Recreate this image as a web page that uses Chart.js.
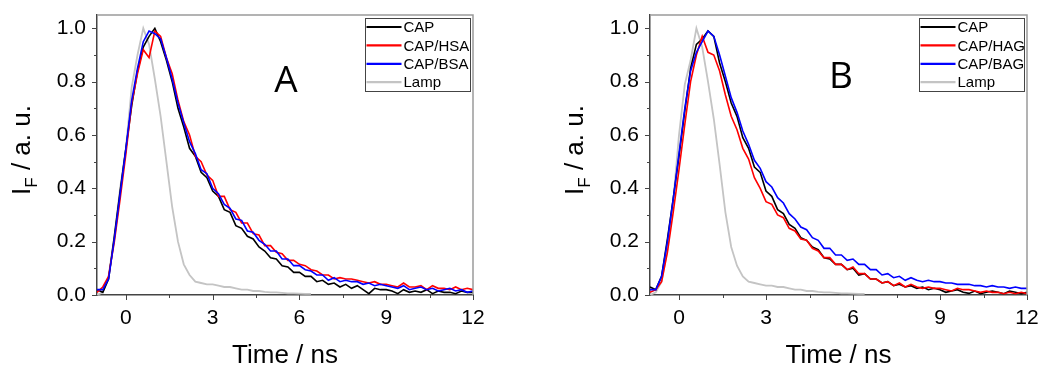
<!DOCTYPE html>
<html>
<head>
<meta charset="utf-8">
<script src="https://cdn.jsdelivr.net/npm/chart.js@4.4.0/dist/chart.umd.min.js"></script>
<style>
  html, body { margin: 0; padding: 0; background: #fff; }
  #wrap { position: relative; width: 1043px; height: 367px; }
  canvas { position: absolute; top: 0; }
</style>
</head>
<body>
<div id="wrap">
  <canvas id="chartA" width="520" height="367" style="left:0"></canvas>
  <canvas id="chartB" width="523" height="367" style="left:520px"></canvas>
</div>
<script>
// time axis (ns), shared by every trace
const timeNs = [-1.0,-0.8,-0.6,-0.4,-0.2,0.0,0.2,0.4,0.6,0.8,1.0,1.2,1.4,1.6,1.8,2.0,2.2,2.4,2.6,2.8,3.0,3.2,3.4,3.6,3.8,4.0,4.2,4.4,4.6,4.8,5.0,5.2,5.4,5.6,5.8,6.0,6.2,6.4,6.6,6.8,7.0,7.2,7.4,7.6,7.8,8.0,8.2,8.4,8.6,8.8,9.0,9.2,9.4,9.6,9.8,10.0,10.2,10.4,10.6,10.8,11.0,11.2,11.4,11.6,11.8,12.0];

// panel A
const capA = [0.02,0.01,0.06,0.22,0.39,0.55,0.71,0.84,0.93,0.97,1.00,0.95,0.88,0.80,0.70,0.63,0.55,0.52,0.46,0.44,0.39,0.37,0.32,0.31,0.26,0.25,0.22,0.21,0.18,0.165,0.14,0.135,0.11,0.105,0.085,0.085,0.07,0.07,0.05,0.055,0.04,0.045,0.03,0.04,0.025,0.035,0.02,0.005,0.025,0.02,0.02,0.015,0.005,0.02,0.01,0.015,0.01,0.02,0.005,0.015,0.01,0.01,0.005,0.015,0.01,0.01];
const hsaA = [0.01,0.03,0.07,0.20,0.36,0.53,0.72,0.83,0.92,0.89,0.99,0.97,0.89,0.83,0.73,0.65,0.60,0.52,0.50,0.45,0.43,0.37,0.37,0.32,0.31,0.27,0.27,0.23,0.225,0.185,0.185,0.16,0.155,0.13,0.13,0.115,0.11,0.095,0.09,0.075,0.075,0.06,0.065,0.06,0.06,0.055,0.05,0.045,0.05,0.04,0.04,0.035,0.03,0.045,0.03,0.03,0.035,0.02,0.035,0.025,0.025,0.02,0.03,0.02,0.025,0.02];
const bsaA = [0.02,0.02,0.06,0.21,0.38,0.55,0.73,0.85,0.95,0.99,0.98,0.96,0.89,0.81,0.72,0.645,0.575,0.53,0.47,0.455,0.40,0.38,0.34,0.325,0.285,0.28,0.24,0.235,0.205,0.19,0.165,0.165,0.135,0.135,0.11,0.11,0.095,0.09,0.075,0.075,0.055,0.065,0.05,0.055,0.05,0.05,0.04,0.045,0.035,0.04,0.035,0.03,0.025,0.035,0.02,0.025,0.03,0.02,0.025,0.015,0.02,0.025,0.015,0.02,0.01,0.015];
const lampA = [0.0,0.01,0.07,0.22,0.40,0.55,0.78,0.90,1.00,0.94,0.81,0.67,0.50,0.33,0.20,0.115,0.075,0.05,0.045,0.04,0.04,0.035,0.03,0.03,0.025,0.02,0.02,0.015,0.015,0.012,0.01,0.01,0.008,0.006,0.006,0.005,0.004,0.004];

// panel B
const capB = [0.03,0.02,0.07,0.21,0.36,0.52,0.69,0.85,0.94,0.96,0.99,0.97,0.87,0.80,0.72,0.67,0.59,0.55,0.48,0.46,0.39,0.37,0.32,0.305,0.265,0.25,0.215,0.205,0.18,0.17,0.14,0.135,0.115,0.115,0.095,0.1,0.075,0.08,0.06,0.06,0.045,0.05,0.035,0.04,0.03,0.035,0.025,0.03,0.02,0.025,0.02,0.01,0.015,0.02,0.01,0.006,0.015,0.005,0.01,0.015,0.01,0.005,0.015,0.01,0.005,0.01];
const hagB = [0.01,0.02,0.05,0.16,0.31,0.47,0.64,0.80,0.90,0.97,0.91,0.90,0.84,0.75,0.67,0.62,0.55,0.51,0.44,0.40,0.35,0.34,0.30,0.29,0.25,0.24,0.21,0.205,0.175,0.165,0.14,0.14,0.115,0.115,0.095,0.105,0.08,0.08,0.06,0.06,0.045,0.05,0.035,0.045,0.03,0.04,0.03,0.025,0.03,0.025,0.025,0.02,0.015,0.025,0.02,0.02,0.015,0.01,0.015,0.01,0.01,0.005,0.01,0.005,0.01,0.005];
const bagB = [0.02,0.02,0.07,0.20,0.36,0.53,0.70,0.84,0.91,0.95,0.99,0.97,0.90,0.82,0.74,0.685,0.615,0.565,0.505,0.475,0.425,0.405,0.365,0.345,0.305,0.285,0.255,0.245,0.215,0.205,0.175,0.175,0.15,0.15,0.13,0.135,0.115,0.115,0.095,0.095,0.075,0.08,0.065,0.07,0.055,0.065,0.055,0.05,0.055,0.05,0.05,0.045,0.045,0.04,0.04,0.04,0.035,0.035,0.03,0.035,0.03,0.03,0.025,0.03,0.025,0.025];
const lampB = [0.0,0.01,0.05,0.17,0.35,0.60,0.79,0.88,1.00,0.93,0.80,0.66,0.49,0.31,0.18,0.11,0.07,0.05,0.045,0.04,0.035,0.035,0.03,0.03,0.025,0.02,0.02,0.015,0.015,0.012,0.01,0.01,0.008,0.006,0.006,0.005,0.004,0.004];

const labelsA = ['CAP', 'CAP/HSA', 'CAP/BSA', 'Lamp'];
const labelsB = ['CAP', 'CAP/HAG', 'CAP/BAG', 'Lamp'];
const xTicks = [0, 3, 6, 9, 12];
const yTicks = [0, 0.2, 0.4, 0.6, 0.8, 1.0];
const xTitle = 'Time / ns';

const family = '"Liberation Sans", Arial, sans-serif';
const colors = ['#000000', '#ff0000', '#0000ff', '#c4c4c4'];
const drawOrder = [2, 1, 0, 3]; // blue on top, lamp underneath

// frame, outward ticks, legend box, y title with subscript, panel letter
const decor = {
    id: 'decor',
    afterDraw(chart, args, opts) {
        const { ctx, chartArea: { top, bottom, left, right }, scales: { x, y } } = chart;
        ctx.save();

        ctx.strokeStyle = '#9a9a9a';
        ctx.lineWidth = 1.5;
        ctx.beginPath();
        ctx.moveTo(left, top);
        ctx.lineTo(right, top);
        ctx.lineTo(right, bottom);
        ctx.stroke();

        ctx.strokeStyle = '#444';
        ctx.lineWidth = 1;
        const tick = (x1, y1, x2, y2) => { ctx.beginPath(); ctx.moveTo(x1, y1); ctx.lineTo(x2, y2); ctx.stroke(); };
        xTicks.forEach((v, i) => {
            const px = Math.round(x.getPixelForValue(v)) + 0.5;
            tick(px, bottom, px, bottom + 5);
            if (i < xTicks.length - 1) {
                const mx = Math.round(x.getPixelForValue((v + xTicks[i + 1]) / 2)) + 0.5;
                tick(mx, bottom, mx, bottom + 3);
            }
        });
        yTicks.forEach((v, i) => {
            const py = Math.round(y.getPixelForValue(v)) + 0.5;
            tick(left - 5, py, left, py);
            if (i < yTicks.length - 1) {
                const my = Math.round(y.getPixelForValue((v + yTicks[i + 1]) / 2)) + 0.5;
                tick(left - 3, my, left, my);
            }
        });

        // legend
        const bw = 105, bh = 73;
        const bx = right - 2.5 - bw, by = top + 3.5;
        ctx.strokeStyle = '#444';
        ctx.strokeRect(bx, by, bw, bh);
        ctx.font = '15px ' + family;
        ctx.textBaseline = 'middle';
        ctx.textAlign = 'left';
        chart.data.datasets.forEach((ds, i) => {
            const ry = by + 8.5 + i * 18.4;
            ctx.strokeStyle = ds.borderColor;
            ctx.lineWidth = 2.2;
            tick(bx + 1, ry, bx + 36, ry);
            ctx.fillStyle = '#000';
            ctx.fillText(ds.label, bx + 38, ry + 1);
        });

        // y title: I with subscript F
        ctx.translate(opts.titleX, 150);
        ctx.rotate(-Math.PI / 2);
        const big = '26px ' + family, small = '17px ' + family;
        ctx.font = big;
        const wI = ctx.measureText('I').width;
        const wRest = ctx.measureText(' / a. u.').width;
        ctx.font = small;
        const wF = ctx.measureText('F').width;
        let cx = -(wI + wF + wRest) / 2;
        ctx.fillStyle = '#000';
        ctx.textBaseline = 'alphabetic';
        ctx.font = big;
        ctx.fillText('I', cx, 0);
        cx += wI;
        ctx.font = small;
        ctx.fillText('F', cx, 7);
        cx += wF;
        ctx.font = big;
        ctx.fillText(' / a. u.', cx, 0);
        ctx.restore();

        ctx.save();
        ctx.font = '37px "Open Sans", "Noto Sans", sans-serif';
        ctx.fillStyle = '#000';
        ctx.textAlign = 'center';
        ctx.textBaseline = 'alphabetic';
        ctx.fillText(opts.letter, opts.letterX, opts.letterY);
        ctx.restore();
    }
};

function makePanel(id, labels, series, lamp, cfg) {
    const all = [...series, lamp];
    const datasets = all.map((vals, k) => ({
        label: labels[k],
        data: vals.map((v, i) => ({ x: timeNs[i], y: v })),
        borderColor: colors[k],
        borderWidth: k === 3 ? 1.8 : 1.6,
        pointRadius: 0,
        tension: 0,
        fill: false,
        order: drawOrder[k]
    }));

    new Chart(document.getElementById(id), {
        type: 'line',
        data: { datasets: datasets },
        options: {
            responsive: false,
            animation: false,
            events: [],
            layout: { padding: { top: 15, right: cfg.padRight, left: 0, bottom: 0 } },
            plugins: {
                legend: { display: false },
                tooltip: { enabled: false },
                decor: cfg
            },
            scales: {
                x: {
                    type: 'linear',
                    min: -1,
                    max: 12,
                    afterBuildTicks: s => { s.ticks = xTicks.map(v => ({ value: v })); },
                    afterFit: s => { s.height = 72; s.paddingLeft = 0; s.paddingRight = 0; },
                    grid: { drawOnChartArea: false, drawTicks: false },
                    border: { color: '#444', width: 1.5 },
                    ticks: { padding: 11, color: '#000', maxRotation: 0, font: { family: family, size: 21 }, callback: v => String(v) },
                    title: { display: true, text: xTitle, color: '#000', padding: 0, font: { family: family, size: 26, lineHeight: 0.85 } }
                },
                y: {
                    type: 'linear',
                    min: 0,
                    max: 1.05,
                    afterBuildTicks: s => { s.ticks = yTicks.map(v => ({ value: v })); },
                    afterFit: s => { s.width = cfg.axisLeft; s.paddingTop = 0; s.paddingBottom = 0; },
                    grid: { drawOnChartArea: false, drawTicks: false },
                    border: { color: '#444', width: 1.5 },
                    ticks: { padding: 11, color: '#000', font: { family: family, size: 21 }, callback: v => v.toFixed(1) }
                }
            }
        },
        plugins: [decor]
    });
}

makePanel('chartA', labelsA, [capA, hsaA, bsaA], lampA,
    { padRight: 47, axisLeft: 97, titleX: 30, letter: 'A', letterX: 286, letterY: 92 });
makePanel('chartB', labelsB, [capB, hagB, bagB], lampB,
    { padRight: 16, axisLeft: 130, titleX: 63, letter: 'B', letterX: 321, letterY: 88 });
</script>
</body>
</html>
